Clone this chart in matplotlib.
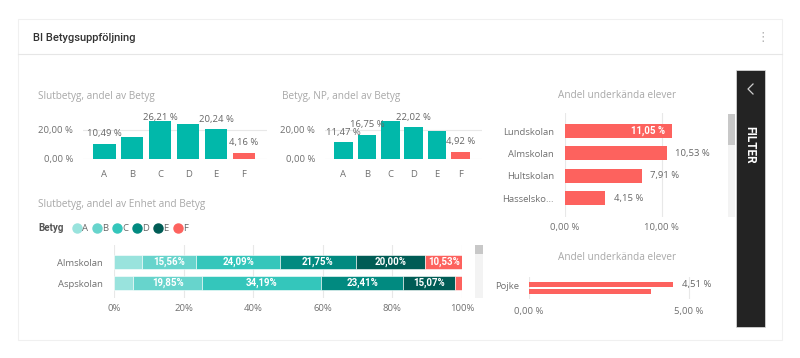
import matplotlib
matplotlib.use("Agg")
import matplotlib.pyplot as plt
from matplotlib.lines import Line2D
from matplotlib.patches import Rectangle

# ---- data -------------------------------------------------------------
grades = ["A", "B", "C", "D", "E", "F"]
slutbetyg_share = [10.49, 15.13, 26.21, 23.77, 20.24, 4.16]
slutbetyg_labelled = [True, False, True, False, True, True]
np_share = [11.47, 16.75, 26.00, 22.02, 18.84, 4.92]
np_labelled = [True, True, False, True, False, True]

schools_fail = ["Lundskolan", "Almskolan", "Hultskolan", "Hasselsko..."]
fail_share = [11.05, 10.53, 7.91, 4.15]

schools_stack = ["Almskolan", "Aspskolan"]
almskolan_grades = [8.07, 15.56, 24.09, 21.75, 20.00, 10.53]
aspskolan_grades = [5.55, 19.85, 34.19, 23.41, 15.07, 1.93]

gender = ["Pojke"]
gender_fail = [4.51, 3.81]

# ---- style ------------------------------------------------------------
W, H = 800, 358
TEAL = "#01B8AA"
RED = "#FD625E"
GRADE_COLORS = ["#99E3DD", "#67D4CC", "#34C6BB", "#018A80", "#005C55", RED]
TITLE_C = "#a8a8a8"
TICK_C = "#707070"
LABEL_C = "#666666"
GRID_C = "#e8e8e8"
FONT = ["Open Sans", "DejaVu Sans"]
BOLD = ["Roboto", "DejaVu Sans"]

plt.rcParams["font.family"] = FONT
plt.rcParams["font.size"] = 6.8


def px_axes(fig, left, top, right, bottom):
    return fig.add_axes([left / W, 1 - bottom / H, (right - left) / W, (bottom - top) / H])


def px_text(fig, x, y, s, **kw):
    return fig.text(x / W, 1 - y / H, s, **kw)


def px_rect(fig, left, top, right, bottom, **kw):
    rect = Rectangle((left / W, 1 - bottom / H), (right - left) / W, (bottom - top) / H,
                     transform=fig.transFigure, **kw)
    fig.add_artist(rect)
    return rect


def pct(v, space=True):
    s = f"{v:.2f}".replace(".", ",")
    return s + (" %" if space else "%")


def clean(ax):
    for sp in ax.spines.values():
        sp.set_visible(False)
    ax.tick_params(length=0, colors=TICK_C, labelsize=6.8)
    ax.set_axisbelow(True)
    ax.patch.set_alpha(0)


def column_chart(ax, values, labelled):
    colors = [TEAL] * (len(values) - 1) + [RED]
    ax.bar(range(len(values)), values, width=0.8, color=colors)
    ax.set_ylim(0, 31.5)
    ax.set_yticks([0, 20])
    ax.set_yticklabels(["0,00 %", "20,00 %"])
    ax.set_xticks(range(len(values)))
    ax.set_xticklabels(grades, color=LABEL_C)
    ax.tick_params(axis="x", pad=8)
    ax.tick_params(axis="y", pad=7)
    ax.yaxis.grid(True, color=GRID_C, linewidth=0.8)
    clean(ax)
    for i, (v, show) in enumerate(zip(values, labelled)):
        if show:
            ax.text(i, min(v + 6.9, 28.1), pct(v), ha="center", va="center",
                    color=LABEL_C, fontsize=6.8)


fig = plt.figure(figsize=(W / 100, H / 100), dpi=100)
fig.patch.set_facecolor("white")

# card frame + header
px_rect(fig, 18, 19, 782, 340, facecolor="white", edgecolor="#f0f0f0", linewidth=0.8,
        zorder=-10)
fig.add_artist(Line2D([18 / W, 782 / W], [1 - 54 / H, 1 - 54 / H], transform=fig.transFigure,
                      color="#e6e6e6", linewidth=0.8, zorder=-5))
px_text(fig, 33, 38, "BI Betygsuppföljning", family=BOLD,
        fontweight="medium", fontsize=8, color="#333333", va="center")
px_text(fig, 763, 38, "⋮", family=["DejaVu Sans"], fontsize=9, color="#b0b0b0",
        ha="center", va="center")

# chart 1: Slutbetyg
px_text(fig, 38, 97, "Slutbetyg, andel av Betyg", color=TITLE_C, fontsize=7.2, va="center")
ax1 = px_axes(fig, 83, 113, 267, 159)
column_chart(ax1, slutbetyg_share, slutbetyg_labelled)
ax1.set_xlim(-0.77, 5.83)

# chart 2: Betyg, NP
px_text(fig, 282, 97, "Betyg, NP, andel av Betyg", color=TITLE_C, fontsize=7.2, va="center")
ax2 = px_axes(fig, 325, 113, 482, 159)
column_chart(ax2, np_share, np_labelled)
ax2.set_xlim(-0.79, 5.92)

# chart 3: failing share per school
px_text(fig, 617, 96, "Andel underkända elever", color=TITLE_C, fontsize=7.2,
        ha="center", va="center")
ax3 = px_axes(fig, 565, 113, 720, 217)
ax3.barh(range(len(fail_share)), fail_share, height=0.63, color=RED)
ax3.set_xlim(0, 16)
ax3.set_ylim(3.85, -0.81)
ax3.set_xticks([0, 10])
ax3.set_xticklabels(["0,00 %", "10,00 %"])
ax3.set_yticks(range(len(schools_fail)))
ax3.set_yticklabels(schools_fail, color=LABEL_C)
ax3.tick_params(axis="y", pad=8)
ax3.tick_params(axis="x", pad=4)
ax3.xaxis.grid(True, color=GRID_C, linewidth=0.8)
clean(ax3)
for i, v in enumerate(fail_share):
    if v >= 11:
        ax3.annotate(pct(v), (v, i), xytext=(-5, 0), textcoords="offset points",
                     ha="right", va="center", color="white", fontweight="bold",
                     fontsize=7, family=BOLD)
    else:
        ax3.annotate(pct(v), (v, i), xytext=(6, 0), textcoords="offset points",
                     ha="left", va="center", color=LABEL_C, fontsize=6.8)

# scrollbar of chart 3
px_rect(fig, 728, 114, 735, 217, facecolor="#f3f3f3", edgecolor="none")
px_rect(fig, 728, 114, 735, 145, facecolor="#c8c8c8", edgecolor="none")

# chart 4: stacked 100% by school
px_text(fig, 38, 205, "Slutbetyg, andel av Enhet and Betyg", color=TITLE_C, fontsize=7.2,
        va="center")
px_text(fig, 38, 228, "Betyg", color="#555555", fontweight="bold", fontsize=7,
        va="center", family=BOLD)
handles = [Line2D([], [], marker="o", linestyle="none", markersize=6.5, color=c)
           for c in GRADE_COLORS]
fig.legend(handles, grades, loc="center left", bbox_to_anchor=(68 / W, 1 - 228.5 / H),
           ncol=6, frameon=False, handlelength=0.8, handletextpad=0.15,
           columnspacing=0.55, borderpad=0, fontsize=6.8, labelcolor=LABEL_C)

ax4 = px_axes(fig, 114, 245, 462, 298)
rows = [almskolan_grades, aspskolan_grades]
for r, row in enumerate(rows):
    left = 0
    for g, v in enumerate(row):
        ax4.barh(r, v, left=left, height=0.67, color=GRADE_COLORS[g],
                 edgecolor="white", linewidth=0.4)
        if v >= 10:
            ax4.text(left + v / 2, r, pct(v, space=False), ha="center", va="center",
                     color="white", fontweight="bold", fontsize=7, family=BOLD)
        left += v
ax4.set_xlim(0, 100)
ax4.set_ylim(1.71, -0.81)
ax4.set_xticks(range(0, 101, 20))
ax4.set_xticklabels([f"{t}%" for t in range(0, 101, 20)])
ax4.set_yticks(range(len(schools_stack)))
ax4.set_yticklabels(schools_stack, color=LABEL_C)
ax4.tick_params(axis="y", pad=8)
ax4.tick_params(axis="x", pad=4)
ax4.xaxis.grid(True, color=GRID_C, linewidth=0.8)
clean(ax4)

px_rect(fig, 475, 245, 483, 298, facecolor="#f3f3f3", edgecolor="none")
px_rect(fig, 475, 245, 483, 254, facecolor="#c8c8c8", edgecolor="none")

# chart 5: failing share by gender
px_text(fig, 617, 258, "Andel underkända elever", color=TITLE_C, fontsize=7.2,
        ha="center", va="center")
ax5 = px_axes(fig, 529, 277, 720, 299)
offsets = [-0.15, 0.15]
heights = [0.23, 0.2]
for off, hgt, v in zip(offsets, heights, gender_fail):
    ax5.barh(off, v, height=hgt, color=RED)
ax5.annotate(pct(gender_fail[0]), (gender_fail[0], offsets[0]), xytext=(6, 0),
             textcoords="offset points", ha="left", va="center", color=LABEL_C, fontsize=6.8)
ax5.set_xlim(0, 5.97)
ax5.set_ylim(0.5, -0.5)
ax5.set_xticks([0, 5])
ax5.set_xticklabels(["0,00 %", "5,00 %"])
ax5.set_yticks([-0.1])
ax5.set_yticklabels(gender, color=LABEL_C)
ax5.tick_params(axis="y", pad=7)
ax5.tick_params(axis="x", pad=6)
ax5.xaxis.grid(True, color=GRID_C, linewidth=0.8)
clean(ax5)

# filter pane
px_rect(fig, 736, 70, 765, 327, facecolor="#232323", edgecolor="#e0e0e0", linewidth=0.5)
fig.add_artist(Line2D([753 / W, 748 / W, 753 / W], [1 - 84 / H, 1 - 89 / H, 1 - 94 / H],
                      transform=fig.transFigure, color="#cfcfcf", linewidth=0.9))
px_text(fig, 750, 145, "FILTER", color="white", fontweight="bold", fontsize=8.5,
        rotation=270, ha="center", va="center", family=BOLD)

fig.savefig("out.png", dpi=100, facecolor="white")
